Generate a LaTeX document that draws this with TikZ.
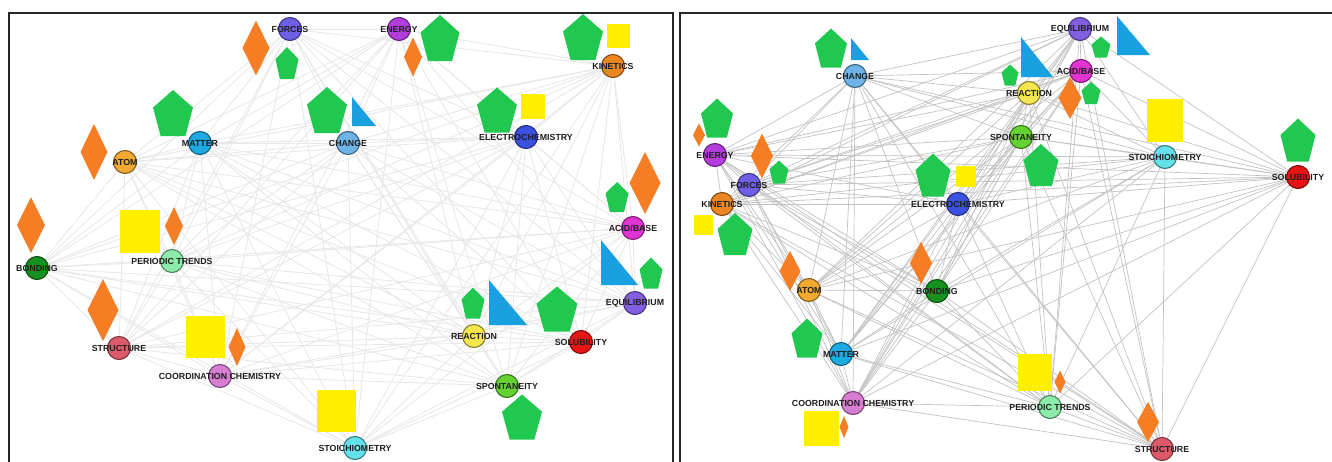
\documentclass[tikz,border=0pt]{standalone}
\usepackage{fontspec}
\setmainfont{Liberation Sans}
\setsansfont{Liberation Sans}
\pgfdeclarelayer{bg}
\pgfdeclarelayer{deco}
\pgfsetlayers{bg,deco,main}
\definecolor{pentc}{RGB}{32,200,80}
\definecolor{diamc}{RGB}{245,125,35}
\definecolor{sqc}{RGB}{255,238,0}
\definecolor{tric}{RGB}{25,160,225}
\definecolor{cFor}{RGB}{110,95,230}
\definecolor{cEne}{RGB}{180,60,220}
\definecolor{cKin}{RGB}{235,135,35}
\definecolor{cMat}{RGB}{30,170,225}
\definecolor{cCha}{RGB}{110,180,230}
\definecolor{cEle}{RGB}{60,80,225}
\definecolor{cAto}{RGB}{240,170,50}
\definecolor{cAci}{RGB}{225,50,210}
\definecolor{cBon}{RGB}{20,145,30}
\definecolor{cPer}{RGB}{140,235,170}
\definecolor{cEqu}{RGB}{130,95,225}
\definecolor{cRea}{RGB}{245,230,80}
\definecolor{cSol}{RGB}{230,20,20}
\definecolor{cStr}{RGB}{220,90,105}
\definecolor{cCoo}{RGB}{215,125,210}
\definecolor{cSpo}{RGB}{100,210,50}
\definecolor{cSto}{RGB}{100,225,235}
\tikzset{
  cn/.style={circle, minimum size=11.5pt, inner sep=0pt, draw=#1!55!black, fill=#1, line width=0.55pt},
  lab/.style={font=\sffamily\bfseries\fontsize{4.4}{5}\selectfont, text=black!88, inner sep=0pt},
  ledge/.style={draw=black!9, line width=0.45pt},
  redge/.style={draw=black!24, line width=0.35pt},
  frame/.style={draw=black!85, line width=0.8pt}
}
\newcommand\cnode[5]{\node[cn=#4] (#1) at (#2,#3) {}; \node[lab] (#1t) at (#2,#3) {#5};}
\newcommand\decoPent[4]{\fill[pentc,shift={(#1,#2)}] (0,{-0.5*#4}) -- ({0.5*#3},{-0.118*#4}) -- ({0.309*#3},{0.5*#4}) -- ({-0.309*#3},{0.5*#4}) -- ({-0.5*#3},{-0.118*#4}) -- cycle;}
\newcommand\decoDiam[4]{\fill[diamc,shift={(#1,#2)}] (0,{-0.5*#4}) -- ({0.5*#3},0) -- (0,{0.5*#4}) -- ({-0.5*#3},0) -- cycle;}
\newcommand\decoSq[4]{\fill[sqc,shift={(#1,#2)}] ({-0.5*#3},{-0.5*#4}) rectangle ({0.5*#3},{0.5*#4});}
\newcommand\decoTri[4]{\fill[tric] (#1,#2) -- (#1,#4) -- (#3,#4) -- cycle;}
\begin{document}
\begin{tikzpicture}[x=0.5pt,y=-0.5pt]
\useasboundingbox (0,0) rectangle (1332,461);
\clip (0,0) rectangle (1332,461);
% ---------- frames
\draw[frame] (9,12.7) rectangle (672.7,480);
\draw[frame] (680,12.7) rectangle (1345,480);
% ---------- left panel nodes
\cnode{lfor}{290}{29}{cFor}{FORCES}
\cnode{lene}{399}{29}{cEne}{ENERGY}
\cnode{lkin}{613}{66}{cKin}{KINETICS}
\cnode{lmat}{200}{143}{cMat}{MATTER}
\cnode{lcha}{348}{143}{cCha}{CHANGE}
\cnode{lele}{526}{137}{cEle}{ELECTROCHEMISTRY}
\cnode{lato}{125}{162}{cAto}{ATOM}
\cnode{laci}{633}{228}{cAci}{ACID/BASE}
\cnode{lbon}{37}{268}{cBon}{BONDING}
\cnode{lper}{172}{261}{cPer}{PERIODIC TRENDS}
\cnode{lequ}{635}{303}{cEqu}{EQUILIBRIUM}
\cnode{lrea}{474}{336}{cRea}{REACTION}
\cnode{lsol}{581}{342}{cSol}{SOLUBILITY}
\cnode{lstr}{119}{348}{cStr}{STRUCTURE}
\cnode{lcoo}{220}{376}{cCoo}{COORDINATION CHEMISTRY}
\cnode{lspo}{507}{386}{cSpo}{SPONTANEITY}
\cnode{lsto}{355}{448}{cSto}{STOICHIOMETRY}
% ---------- right panel nodes
\cnode{rcha}{855}{76}{cCha}{CHANGE}
\cnode{requ}{1080}{29}{cEqu}{EQUILIBRIUM}
\cnode{raci}{1081}{71}{cAci}{ACID/BASE}
\cnode{rrea}{1029}{93}{cRea}{REACTION}
\cnode{rspo}{1021}{137}{cSpo}{SPONTANEITY}
\cnode{rsto}{1165}{157}{cSto}{STOICHIOMETRY}
\cnode{rsol}{1298}{177}{cSol}{SOLUBILITY}
\cnode{rene}{715}{155}{cEne}{ENERGY}
\cnode{rfor}{749}{185}{cFor}{FORCES}
\cnode{rkin}{722}{204}{cKin}{KINETICS}
\cnode{rele}{958}{204}{cEle}{ELECTROCHEMISTRY}
\cnode{rato}{809}{290}{cAto}{ATOM}
\cnode{rbon}{937}{291}{cBon}{BONDING}
\cnode{rmat}{841}{354}{cMat}{MATTER}
\cnode{rcoo}{853}{403}{cCoo}{COORDINATION CHEMISTRY}
\cnode{rper}{1050}{407}{cPer}{PERIODIC TRENDS}
\cnode{rstr}{1162}{449}{cStr}{STRUCTURE}
% ---------- edges
\begin{pgfonlayer}{bg}
\foreach \a [count=\i] in {lfor,lene,lkin,lmat,lcha,lele,lato,laci,lbon,lper,lequ,lrea,lsol,lstr,lcoo,lspo,lsto}{
  \foreach \b [count=\j] in {lfor,lene,lkin,lmat,lcha,lele,lato,laci,lbon,lper,lequ,lrea,lsol,lstr,lcoo,lspo,lsto}{
    \ifnum\j>\i \draw[ledge] (\a) -- (\b); \fi
  }
}
\foreach \a [count=\i] in {rcha,requ,raci,rrea,rspo,rsto,rsol,rene,rfor,rkin,rele,rato,rbon,rmat,rcoo,rper,rstr}{
  \foreach \b [count=\j] in {rcha,requ,raci,rrea,rspo,rsto,rsol,rene,rfor,rkin,rele,rato,rbon,rmat,rcoo,rper,rstr}{
    \ifnum\j>\i \draw[redge] (\a) -- (\b); \fi
  }
}
\end{pgfonlayer}
% ---------- decorations
\begin{pgfonlayer}{deco}
% left
\decoDiam{256}{48}{27}{55}
\decoDiam{413}{57}{18}{39}
\decoDiam{94}{152}{27}{56}
\decoDiam{31}{225}{28}{56}
\decoDiam{174}{226}{18}{38}
\decoDiam{103}{310}{31}{62}
\decoDiam{237}{347}{17}{38}
\decoDiam{645}{183}{31}{62}
\decoPent{287}{63}{23}{32}
\decoPent{327}{110}{40}{46}
\decoPent{173}{113}{40}{46}
\decoPent{440}{38}{39}{46}
\decoPent{583}{37}{40}{46}
\decoPent{497}{110}{40}{45}
\decoPent{617}{197}{23}{30}
\decoPent{651}{273}{23}{31}
\decoPent{473}{303}{23}{31}
\decoPent{557}{309}{41}{45}
\decoPent{522}{417}{40}{45}
\decoSq{618}{36}{23}{24}
\decoSq{533}{106}{24}{25}
\decoSq{140}{231}{40}{43}
\decoSq{205}{337}{39}{42}
\decoSq{336}{411}{39}{42}
\decoTri{352}{97}{376}{126}
\decoTri{601}{240}{638}{285}
\decoTri{489}{280}{527}{325}
% right
\decoPent{831}{48}{32}{39}
\decoPent{717}{118}{32}{39}
\decoPent{779}{172}{19}{23}
\decoPent{933}{175}{35}{43}
\decoPent{735}{234}{35}{42}
\decoPent{807}{338}{31}{39}
\decoPent{1101}{47}{19}{21}
\decoPent{1010}{75}{17}{21}
\decoPent{1091}{93}{19}{22}
\decoPent{1041}{165}{35}{42}
\decoPent{1298}{140}{35}{43}
\decoDiam{699}{135}{12}{23}
\decoDiam{762}{156}{22}{45}
\decoDiam{790}{271}{21}{40}
\decoDiam{921}{263}{22}{42}
\decoDiam{844}{427}{9}{22}
\decoDiam{1070}{98}{23}{42}
\decoDiam{1060}{382}{11}{23}
\decoDiam{1148}{422}{22}{40}
\decoSq{966}{176}{20}{21}
\decoSq{703}{225}{19}{20}
\decoSq{821}{428}{35}{35}
\decoSq{1165}{120}{36}{43}
\decoSq{1035}{372}{34}{37}
\decoTri{851}{38}{869}{60}
\decoTri{1117}{16}{1150}{55}
\decoTri{1021}{37}{1053}{77}
\end{pgfonlayer}
\end{tikzpicture}
\end{document}
